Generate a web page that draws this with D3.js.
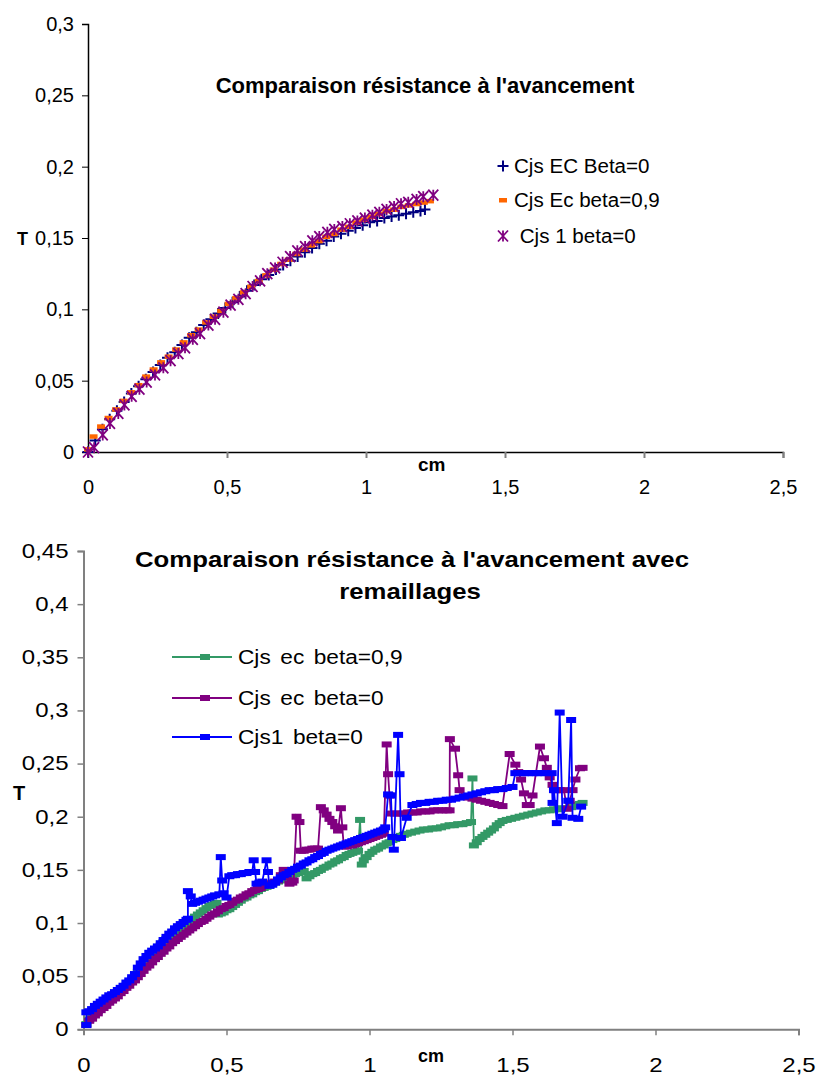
<!DOCTYPE html>
<html><head><meta charset="utf-8">
<script src="https://cdn.jsdelivr.net/npm/d3@7"></script>
<style>body{margin:0;background:#fff}svg{display:block}text{font-family:"Liberation Sans",Arial,sans-serif}</style>
</head><body>
<script>
// ---------- Chart 1 data ----------
const title1 = "Comparaison résistance à l'avancement";
const xTicks1 = [0, 0.5, 1, 1.5, 2, 2.5];
const yTicks1 = [0, 0.05, 0.1, 0.15, 0.2, 0.25, 0.3];
const names1 = ["Cjs EC Beta=0", "Cjs Ec beta=0,9", " Cjs 1 beta=0"];
const ecB0_x = [0,0.026,0.052,0.078,0.104,0.13,0.156,0.182,0.208,0.234,0.26,0.286,0.312,0.338,0.364,0.39,0.416,0.442,0.468,0.494,0.52,0.546,0.572,0.598,0.624,0.65,0.676,0.702,0.728,0.754,0.78,0.806,0.832,0.858,0.884,0.91,0.936,0.962,0.988,1.014,1.04,1.066,1.092,1.118,1.144,1.17,1.196,1.212];
const ecB0_y = [0,0.008,0.016,0.023,0.029,0.035,0.041,0.046,0.051,0.056,0.061,0.066,0.070,0.075,0.080,0.084,0.089,0.093,0.097,0.101,0.105,0.109,0.113,0.117,0.121,0.124,0.128,0.131,0.134,0.137,0.140,0.143,0.146,0.148,0.151,0.153,0.155,0.157,0.159,0.161,0.162,0.164,0.165,0.166,0.167,0.168,0.169,0.170];
const ecB9_x = [0,0.02,0.047,0.074,0.101,0.128,0.155,0.182,0.209,0.236,0.263,0.29,0.317,0.344,0.371,0.398,0.425,0.452,0.479,0.506,0.533,0.56,0.587,0.614,0.641,0.668,0.695,0.722,0.749,0.776,0.803,0.83,0.857,0.884,0.911,0.938,0.965,0.992,1.019,1.046,1.073,1.1,1.127,1.154,1.181,1.208,1.23];
const ecB9_y = [0.002,0.011,0.018,0.024,0.030,0.036,0.042,0.047,0.053,0.058,0.063,0.067,0.072,0.077,0.082,0.086,0.091,0.095,0.099,0.104,0.108,0.112,0.116,0.120,0.124,0.128,0.132,0.135,0.139,0.142,0.145,0.148,0.151,0.153,0.156,0.158,0.161,0.163,0.165,0.167,0.169,0.170,0.172,0.173,0.174,0.175,0.176];
const c1_x = [0,0.022,0.053,0.079,0.109,0.131,0.157,0.185,0.211,0.241,0.271,0.297,0.325,0.349,0.377,0.403,0.433,0.457,0.487,0.513,0.541,0.567,0.592,0.619,0.645,0.673,0.700,0.727,0.753,0.781,0.807,0.832,0.861,0.886,0.915,0.942,0.969,0.996,1.023,1.048,1.074,1.101,1.126,1.152,1.182,1.206,1.242];
const c1_y = [0,0.003,0.012,0.020,0.027,0.033,0.039,0.044,0.049,0.054,0.059,0.064,0.069,0.073,0.079,0.083,0.089,0.093,0.098,0.103,0.107,0.111,0.116,0.120,0.125,0.129,0.133,0.137,0.141,0.144,0.148,0.151,0.154,0.156,0.158,0.160,0.162,0.164,0.166,0.168,0.170,0.172,0.174,0.175,0.177,0.179,0.180];

// ---------- Chart 2 data ----------
const title2a = "Comparaison résistance à l'avancement avec";
const title2b = "remaillages";
const xTicks2 = [0, 0.5, 1, 1.5, 2, 2.5];
const yTicks2 = [0, 0.05, 0.1, 0.15, 0.2, 0.25, 0.3, 0.35, 0.4, 0.45];
const names2 = ["Cjs ec beta=0,9", "Cjs ec beta=0", "Cjs1 beta=0"];
// [x (cm), T]
const green09 = [[.01,.005],[.02,.009],[.03,.012],[.04,.015],[.05,.017],[.06,.020],[.07,.022],[.08,.025],[.09,.027],[.10,.029],[.11,.031],[.12,.034],[.13,.036],[.14,.039],[.15,.041],[.16,.044],[.17,.047],[.18,.050],[.19,.054],[.20,.057],[.21,.061],[.22,.065],[.23,.068],[.24,.071],[.25,.074],[.26,.077],[.27,.079],[.28,.082],[.29,.085],[.30,.087],[.31,.089],[.32,.092],[.33,.094],[.34,.096],[.35,.098],[.36,.100],[.37,.102],[.38,.104],[.39,.106],[.40,.108],[.41,.110],[.42,.112],[.43,.114],[.44,.116],[.45,.117],[.46,.118],[.465,.119],[.47,.108],[.48,.109],[.49,.110],[.50,.112],[.51,.113],[.52,.115],[.53,.117],[.54,.119],[.55,.121],[.56,.123],[.57,.124],[.58,.126],[.59,.127],[.60,.129],[.61,.130],[.62,.132],[.63,.133],[.64,.134],[.65,.135],[.66,.137],[.67,.138],[.68,.139],[.69,.140],[.70,.142],[.71,.143],[.72,.144],[.73,.145],[.74,.146],[.75,.147],[.76,.148],[.77,.149],[.78,.142],[.79,.144],[.80,.146],[.81,.147],[.82,.149],[.83,.150],[.84,.152],[.85,.153],[.86,.155],[.87,.156],[.88,.158],[.89,.159],[.90,.161],[.91,.162],[.92,.164],[.93,.165],[.94,.166],[.95,.167],[.96,.168],[.967,.197],[.973,.155],[.98,.159],[.99,.162],[1.00,.165],[1.01,.167],[1.02,.169],[1.03,.170],[1.04,.172],[1.05,.173],[1.06,.175],[1.07,.176],[1.08,.178],[1.09,.179],[1.10,.181],[1.11,.182],[1.12,.183],[1.13,.184],[1.145,.185],[1.16,.186],[1.175,.187],[1.19,.188],[1.205,.188],[1.22,.189],[1.235,.189],[1.25,.190],[1.265,.191],[1.28,.192],[1.295,.192],[1.31,.193],[1.325,.193],[1.34,.194],[1.355,.195],[1.36,.236],[1.365,.173],[1.375,.176],[1.385,.179],[1.395,.181],[1.405,.183],[1.415,.185],[1.425,.187],[1.435,.189],[1.445,.192],[1.455,.194],[1.465,.196],[1.48,.197],[1.495,.198],[1.51,.199],[1.525,.200],[1.54,.201],[1.555,.202],[1.57,.203],[1.585,.204],[1.60,.205],[1.615,.206],[1.63,.206],[1.645,.207],[1.66,.207],[1.675,.208],[1.69,.208],[1.705,.209],[1.72,.211],[1.735,.212],[1.745,.213]];
const purple0 = [[.01,.004],[.02,.008],[.03,.010],[.04,.013],[.05,.015],[.06,.018],[.07,.020],[.08,.022],[.09,.025],[.10,.027],[.11,.029],[.12,.031],[.13,.034],[.14,.036],[.15,.039],[.16,.041],[.17,.044],[.18,.046],[.19,.049],[.20,.052],[.21,.055],[.22,.058],[.23,.060],[.24,.063],[.25,.066],[.26,.068],[.27,.071],[.28,.073],[.29,.076],[.30,.078],[.31,.081],[.32,.083],[.33,.085],[.34,.087],[.35,.089],[.36,.091],[.37,.093],[.38,.095],[.39,.097],[.40,.099],[.41,.101],[.42,.102],[.43,.104],[.44,.106],[.45,.108],[.46,.109],[.47,.111],[.48,.113],[.49,.114],[.50,.116],[.51,.117],[.52,.119],[.53,.121],[.54,.122],[.55,.124],[.56,.125],[.57,.127],[.58,.128],[.59,.130],[.60,.131],[.61,.132],[.62,.133],[.63,.135],[.64,.136],[.65,.137],[.66,.138],[.67,.139],[.68,.140],[.69,.145],[.70,.150],[.71,.143],[.72,.137],[.73,.138],[.735,.140],[.745,.200],[.755,.195],[.76,.168],[.77,.168],[.78,.169],[.79,.169],[.80,.170],[.81,.170],[.82,.170],[.83,.209],[.84,.206],[.85,.202],[.86,.198],[.87,.195],[.88,.191],[.89,.187],[.90,.208],[.905,.190],[.91,.172],[.92,.172],[.93,.173],[.94,.173],[.95,.174],[.96,.175],[.97,.176],[.98,.177],[.99,.178],[1.00,.179],[1.01,.180],[1.02,.181],[1.03,.182],[1.04,.183],[1.05,.184],[1.06,.268],[1.065,.240],[1.07,.220],[1.075,.203],[1.09,.203],[1.105,.203],[1.12,.203],[1.135,.204],[1.15,.204],[1.165,.204],[1.18,.205],[1.195,.205],[1.21,.205],[1.225,.206],[1.24,.206],[1.255,.206],[1.27,.206],[1.28,.206],[1.281,.273],[1.299,.264],[1.31,.239],[1.315,.225],[1.33,.219],[1.345,.218],[1.36,.217],[1.375,.216],[1.39,.215],[1.405,.214],[1.42,.213],[1.435,.212],[1.45,.211],[1.465,.210],[1.49,.259],[1.51,.249],[1.52,.242],[1.53,.235],[1.54,.222],[1.55,.211],[1.56,.211],[1.57,.220],[1.596,.266],[1.61,.255],[1.62,.246],[1.63,.237],[1.64,.230],[1.65,.225],[1.665,.225],[1.68,.225],[1.69,.2075],[1.70,.215],[1.71,.225],[1.72,.235],[1.736,.2456],[1.745,.246]];
const blue1 = [[.01,.004],[.01,.016],[.02,.017],[.03,.019],[.04,.022],[.05,.024],[.06,.026],[.07,.028],[.08,.030],[.09,.032],[.10,.033],[.11,.035],[.12,.037],[.13,.039],[.14,.041],[.15,.044],[.16,.046],[.17,.049],[.18,.052],[.19,.058],[.20,.062],[.21,.066],[.22,.069],[.23,.072],[.24,.074],[.25,.076],[.26,.078],[.27,.081],[.28,.084],[.29,.087],[.30,.090],[.31,.092],[.32,.095],[.33,.097],[.34,.099],[.35,.101],[.36,.103],[.365,.104],[.365,.130],[.375,.125],[.38,.118],[.39,.119],[.40,.120],[.41,.121],[.42,.122],[.43,.123],[.44,.124],[.45,.125],[.46,.126],[.475,.127],[.48,.162],[.485,.140],[.49,.128],[.50,.124],[.51,.144],[.52,.145],[.53,.145],[.54,.146],[.55,.146],[.56,.147],[.57,.147],[.58,.148],[.59,.148],[.595,.159],[.60,.148],[.605,.137],[.615,.138],[.625,.139],[.64,.159],[.645,.148],[.65,.135],[.66,.136],[.67,.138],[.68,.141],[.69,.143],[.70,.145],[.71,.146],[.72,.148],[.73,.150],[.74,.151],[.75,.153],[.76,.154],[.77,.156],[.78,.157],[.79,.159],[.80,.160],[.81,.162],[.82,.163],[.83,.165],[.84,.166],[.85,.168],[.86,.169],[.87,.170],[.88,.171],[.89,.172],[.90,.173],[.91,.174],[.92,.175],[.93,.176],[.94,.177],[.95,.178],[.96,.179],[.97,.180],[.98,.181],[.99,.182],[1.00,.183],[1.01,.184],[1.02,.185],[1.03,.186],[1.04,.187],[1.05,.188],[1.055,.190],[1.065,.221],[1.075,.220],[1.08,.181],[1.085,.169],[1.10,.277],[1.105,.240],[1.11,.180],[1.13,.199],[1.15,.211],[1.165,.212],[1.18,.213],[1.195,.213],[1.21,.214],[1.225,.214],[1.24,.215],[1.255,.215],[1.27,.216],[1.285,.216],[1.30,.217],[1.315,.218],[1.33,.219],[1.345,.220],[1.36,.221],[1.375,.222],[1.39,.223],[1.405,.224],[1.42,.225],[1.435,.225],[1.45,.226],[1.465,.226],[1.48,.227],[1.50,.228],[1.51,.241],[1.525,.241],[1.54,.241],[1.555,.241],[1.57,.241],[1.585,.241],[1.60,.241],[1.615,.241],[1.637,.241],[1.64,.213],[1.645,.225],[1.655,.194],[1.665,.298],[1.675,.200],[1.695,.215],[1.705,.291],[1.71,.199],[1.73,.198],[1.74,.2095]];

const col1 = ["#000080", "#FF6600", "#800080"];
const col2 = ["#339966", "#800080", "#0000FF"];

const W = 819, H = 1077;
const svg = d3.select("body").append("svg").attr("width", W).attr("height", H);
const fmt = d => String(d).replace(".", ",");
const zip = (xs, ys) => xs.map((x, i) => [x, ys[i]]);

function txt(x, y, s, o) {
  o = o || {};
  const t = svg.append("text")
    .attr("transform", `translate(${x},${y}) scale(${o.sx || 1},1)`)
    .attr("font-size", o.size || 20)
    .attr("font-weight", o.bold ? "bold" : "normal")
    .attr("text-anchor", o.anchor || "start")
    .attr("fill", "#000")
    .attr("xml:space", "preserve")
    .style("white-space", "pre")
    .text(s);
  if (o.ws) t.attr("word-spacing", o.ws);
  return t;
}

// ================= Chart 1 =================
const x1 = d3.scaleLinear().domain([0, 2.5]).range([88, 783]);
const y1 = d3.scaleLinear().domain([0, 0.3]).range([452, 24]);

const ax1y = svg.append("g").attr("transform", `translate(${x1(0)},0)`)
  .call(d3.axisLeft(y1).tickValues(yTicks1).tickSize(6).tickPadding(8).tickFormat(fmt));
const ax1x = svg.append("g").attr("transform", `translate(0,${y1(0)})`)
  .call(d3.axisBottom(x1).tickValues(xTicks1).tickSize(6).tickPadding(22).tickFormat(fmt));
[ax1y, ax1x].forEach(a => {
  a.select(".domain").attr("stroke", "#000").attr("stroke-width", 1.5);
  a.selectAll(".tick line").attr("stroke", "#000").attr("stroke-width", 1);
  a.selectAll("text").attr("font-size", 20).attr("font-family", "Liberation Sans, Arial, sans-serif").attr("fill", "#000");
});
ax1x.selectAll(".tick line").attr("stroke", "#808080").attr("stroke-width", 2);
ax1x.selectAll(".tick").filter(d => d === 0).select("line").remove();

txt(425, 93, title1, { bold: true, size: 22, anchor: "middle" });
txt(17, 245, "T", { bold: true, size: 18 });
txt(418, 471, "cm", { bold: true, size: 19 });

// markers chart 1
const s1 = [zip(ecB0_x, ecB0_y), zip(ecB9_x, ecB9_y), zip(c1_x, c1_y)];
function plus(g, c) {
  g.append("path").attr("d", "M-5.5,0H5.5M0,-5.5V5.5").attr("stroke", c).attr("stroke-width", 2).attr("fill", "none");
}
function dash(g, c) {
  g.append("rect").attr("x", -4).attr("y", -2).attr("width", 8).attr("height", 4.5).attr("fill", c);
}
function star(g, c) {
  g.append("path").attr("d", "M-5,-5.5L5,5.5M5,-5.5L-5,5.5M0,-5.5V5.5").attr("stroke", c).attr("stroke-width", 1.8).attr("fill", "none");
}
const mk1 = [plus, dash, star];
s1.forEach((pts, i) => {
  const g = svg.append("g");
  pts.forEach(p => {
    const m = g.append("g").attr("transform", `translate(${x1(p[0])},${y1(p[1])})`);
    mk1[i](m, col1[i]);
  });
});
// legend 1
const leg1y = [166, 200, 236];
names1.forEach((n, i) => {
  const m = svg.append("g").attr("transform", `translate(503,${leg1y[i]})`);
  mk1[i](m, col1[i]);
  txt(514, leg1y[i] + 7, n, { size: 21, sx: 0.98 });
});

// ================= Chart 2 =================
const x2 = d3.scaleLinear().domain([0, 2.5]).range([83.5, 798.5]);
const y2 = d3.scaleLinear().domain([0, 0.45]).range([1029.3, 551]);
const SX2 = 1.2;

const ax2y = svg.append("g").attr("transform", `translate(${x2(0)},0)`)
  .call(d3.axisLeft(y2).tickValues(yTicks2).tickSize(6).tickPadding(9).tickFormat(fmt));
const ax2x = svg.append("g").attr("transform", `translate(0,${y2(0)})`)
  .call(d3.axisBottom(x2).tickValues(xTicks2).tickSize(6).tickPadding(23).tickFormat(fmt));
[ax2y, ax2x].forEach(a => {
  a.select(".domain").attr("stroke", "#808080").attr("stroke-width", 2);
  a.selectAll(".tick line").attr("stroke", "#808080").attr("stroke-width", 1.5);
  a.selectAll("text").attr("font-size", 20).attr("font-family", "Liberation Sans, Arial, sans-serif").attr("fill", "#000");
});
ax2y.selectAll(".tick text").each(function () {
  const t = d3.select(this); const x = +t.attr("x");
  t.attr("x", null).attr("transform", `translate(${x},0) scale(${SX2},1)`);
});
ax2x.selectAll(".tick text").attr("transform", `scale(${SX2},1)`);
ax2x.selectAll(".tick").filter(d => d === 0).select("line").remove();

txt(412, 567, title2a, { bold: true, size: 22, anchor: "middle", sx: 1.17 });
txt(410, 599, title2b, { bold: true, size: 22, anchor: "middle", sx: 1.17 });
txt(13, 800, "T", { bold: true, size: 20 });
txt(418, 1062, "cm", { bold: true, size: 18 });

const s2 = [green09, purple0, blue1];
const line2 = d3.line().x(d => x2(d[0])).y(d => y2(d[1]));
s2.forEach((pts, i) => {
  const g = svg.append("g");
  g.append("path").attr("d", line2(pts)).attr("fill", "none").attr("stroke", col2[i]).attr("stroke-width", 1.8);
  g.selectAll("rect").data(pts).join("rect")
    .attr("x", d => x2(d[0]) - 5).attr("y", d => y2(d[1]) - 3)
    .attr("width", 10).attr("height", 6).attr("fill", col2[i]);
});
// legend 2
const leg2y = [657, 698, 737];
names2.forEach((n, i) => {
  svg.append("line").attr("x1", 172).attr("x2", 232).attr("y1", leg2y[i]).attr("y2", leg2y[i])
    .attr("stroke", col2[i]).attr("stroke-width", 2);
  svg.append("rect").attr("x", 200).attr("y", leg2y[i] - 3).attr("width", 10).attr("height", 6).attr("fill", col2[i]);
  txt(238, leg2y[i] + 7, n, { size: 21, sx: 1.08, ws: 3 });
});
</script>
</body></html>
